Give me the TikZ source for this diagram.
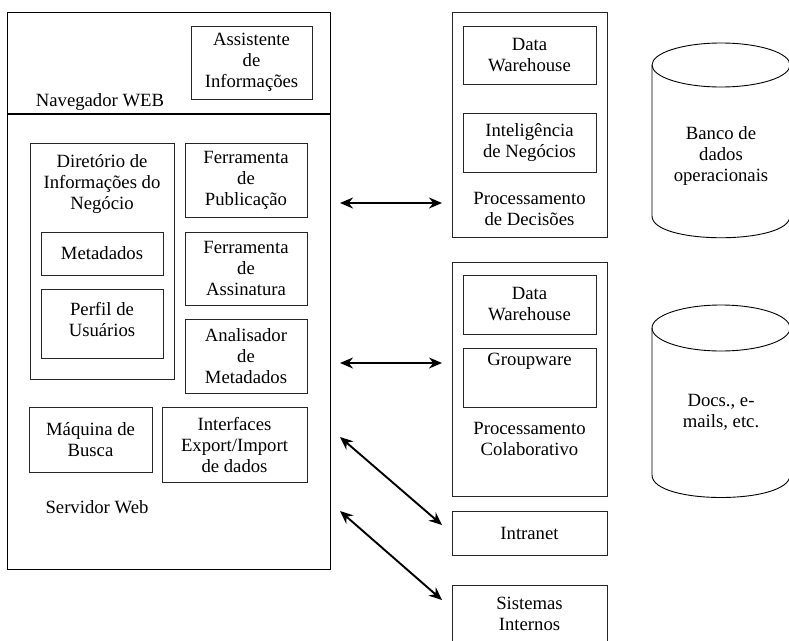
\documentclass[tikz,border=0pt]{standalone}
\usepackage{fontspec}
\setmainfont{Liberation Serif}[Scale=1.0]
\newfontfamily\timesfont{Liberation Serif}
\usetikzlibrary{arrows.meta}
\begin{document}
\begin{tikzpicture}[x=1pt,y=-1pt,
  box/.style={draw=black!85, line width=0.9pt, inner sep=0pt, align=center,
    font=\timesfont\fontsize{18.7}{21}\selectfont},
  txt/.style={inner sep=0pt, align=center, font=\timesfont\fontsize{18.7}{21}\selectfont},
  outer/.style={draw=black, line width=1pt, inner sep=0pt},
  dbl/.style={{Stealth[length=13pt,width=11pt]}-{Stealth[length=13pt,width=11pt]}, line width=1.9pt},
  cyl/.style={draw=black, line width=0.9pt}]
\useasboundingbox (0,0) rectangle (789,640);
\clip (0,0) rectangle (789,640);
\fill[white] (0,0) rectangle (789,640);

% Left: browser / web server
\node[outer, minimum width=323pt, minimum height=557pt] (nav) at (168.5,290.5) {};
\coordinate (sepy) at (0,114);
\draw[line width=1.7pt] (nav.west |- sepy) -- (nav.east |- sepy);
\node[box, minimum width=121pt, minimum height=73pt] (assist) at (251.5,62.5) {Assistente\\de\\Informações};
\node[txt] (navtxt) at (100,102) {Navegador WEB};

\node[box, minimum width=144pt, minimum height=236pt] (dir) at (102,261) {};
\node[txt] (dirtxt) at (102,184) {Diretório de\\Informações do\\Negócio};
\node[box, minimum width=122pt, minimum height=43pt] (meta) at (102,253.5) {Metadados};
\node[box, minimum width=122pt, minimum height=69pt] (perfil) at (102,323.5) {};
\node[txt] (perfiltxt) at (102,320) {Perfil de\\Usuários};

\node[box, minimum width=122pt, minimum height=74pt] (pub) at (246,180) {Ferramenta\\de\\Publicação};
\node[box, minimum width=122pt, minimum height=73pt] (ass) at (246,268.5) {Ferramenta\\de\\Assinatura};
\node[box, minimum width=122pt, minimum height=74pt] (anal) at (246,356) {Analisador\\de\\Metadados};

\node[box, minimum width=123pt, minimum height=65pt] (maq) at (90.5,439.5) {Máquina de\\Busca};
\node[box, minimum width=145pt, minimum height=75pt] (inter) at (234.5,444.5) {Interfaces\\Export/Import\\de dados};
\node[txt] (serv) at (97,507) {Servidor Web};

% Right: processing
\node[outer, draw=black!85, minimum width=155pt, minimum height=225pt] (pd) at (529.5,124.5) {};
\node[box, minimum width=133pt, minimum height=58pt] (dw1) at (529.5,55) {Data\\Warehouse};
\node[box, minimum width=133pt, minimum height=59pt] (bi) at (529.5,142.5) {Inteligência\\de Negócios};
\node[txt] (pdtxt) at (529.5,209) {Processamento\\de Decisões};

\node[outer, draw=black!85, minimum width=155pt, minimum height=234pt] (pc) at (529.5,379) {};
\node[box, minimum width=133pt, minimum height=59pt] (dw2) at (529.5,304.5) {Data\\Warehouse};
\node[box, minimum width=133pt, minimum height=59pt] (gw) at (529.5,377.5) {};
\node[txt] (gwtxt) at (529.5,361) {Groupware};
\node[txt] (pctxt) at (529.5,439) {Processamento\\Colaborativo};

\node[box, minimum width=155pt, minimum height=44pt] (intr) at (529.5,533) {Intranet};
\node[box, minimum width=155pt, minimum height=80pt] (sis) at (529.5,625) {};
\node[txt] (sistxt) at (529.5,614) {Sistemas\\Internos};

% Cylinders
\draw[cyl] (721,65) ellipse [x radius=69pt, y radius=22pt];
\draw[cyl] (652,65) -- (652,216) .. controls (652,245) and (790,245) .. (790,216) -- (790,65);
\node[txt] (db1) at (721,156) {Banco de\\dados\\operacionais};

\draw[cyl] (721,328) ellipse [x radius=69pt, y radius=23pt];
\draw[cyl] (652,328) -- (652,475) .. controls (652,505) and (790,505) .. (790,475) -- (790,328);
\node[txt] (db2) at (721,412) {Docs., e-\\mails, etc.};

% Arrows
\coordinate (a1s) at (340,203); \coordinate (a1e) at (442,203);
\coordinate (a2s) at (340,363); \coordinate (a2e) at (442,363);
\coordinate (a3s) at (340,437); \coordinate (a3e) at (442,525);
\coordinate (a4s) at (340,511); \coordinate (a4e) at (442,600);
\draw[dbl, line width=2.4pt] (a1s) -- (a1e);
\draw[dbl] (a2s) -- (a2e);
\draw[dbl] (a3s) -- (a3e);
\draw[dbl] (a4s) -- (a4e);
\end{tikzpicture}
\end{document}
